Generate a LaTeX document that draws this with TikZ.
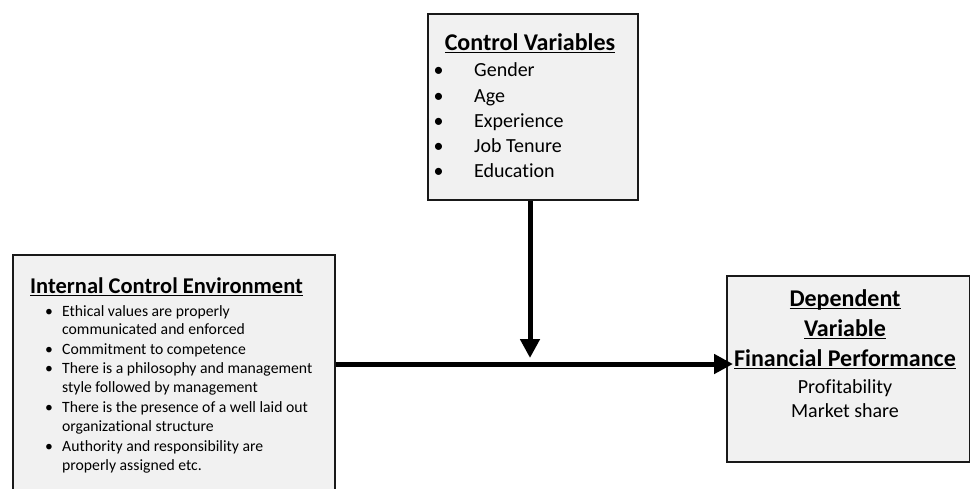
\documentclass[tikz,border=0pt]{standalone}
\usepackage{fontspec}
\setmainfont[Ligatures=NoCommon]{Carlito}
\usetikzlibrary{arrows.meta}
\definecolor{boxgray}{HTML}{F1F1F1}
\newsavebox\ulsave
\newcommand\ulbox[1]{\sbox\ulsave{#1}\rlap{\rule[-3.4pt]{\wd\ulsave}{1.3pt}}\usebox\ulsave}
\begin{document}
\begin{tikzpicture}[x=1pt,y=-1pt,
  box/.style={draw=black!90, line width=2pt, fill=boxgray, inner sep=0pt, anchor=north west},
  conn/.style={line width=5pt, -{Triangle[length=19pt,width=19pt]}},
  ttl/.style={font=\fontsize{24}{28}\selectfont\bfseries, inner sep=0pt, anchor=base},
  cvitem/.style={font=\fontsize{20}{24}\selectfont, inner sep=0pt, anchor=base west},
  ieitem/.style={font=\fontsize{15.7}{18}\selectfont, inner sep=0pt, anchor=base west},
  dvitem/.style={font=\fontsize{20}{24}\selectfont, inner sep=0pt, anchor=base}]
\useasboundingbox (0,0) rectangle (970,488);
\fill[white] (0,0) rectangle (970,488);
% boxes
\node[box, minimum width=210pt, minimum height=186pt] (ctrl) at (427,13) {};
\node[box, minimum width=322pt, minimum height=245pt] (ice) at (12,254) {};
\node[box, minimum width=243pt, minimum height=186pt] (dep) at (726,275) {};
% control variables
\node[ttl] (cvt) at (530,50) {\ulbox{Control Variables}};
\foreach \y/\t [count=\i] in {76/Gender,102/Age,127/Experience,152/Job Tenure,177/Education}{
  \node[cvitem] (cvb\i) at (433.5,\y) {\textbullet};
  \node[cvitem] (cv\i) at (474,\y) {\t};
}
% internal control environment
\node[ttl, font=\fontsize{22.5}{26}\selectfont\bfseries, anchor=base west] (iet) at (30,293) {\ulbox{Internal Control Environment}};
\foreach \y in {316,354,373,412,451}{
  \node[ieitem] at (45,\y) {\textbullet};
}
\node[ieitem] (ie1) at (62,316) {Ethical values are properly};
\node[ieitem] (ie2) at (62,334) {communicated and enforced};
\node[ieitem] (ie3) at (62,354) {Commitment to competence};
\node[ieitem] (ie4) at (62,373) {There is a philosophy and management};
\node[ieitem] (ie5) at (62,392) {style followed by management};
\node[ieitem] (ie6) at (62,412) {There is the presence of a well laid out};
\node[ieitem] (ie7) at (62,431) {organizational structure};
\node[ieitem] (ie8) at (62,451) {Authority and responsibility are};
\node[ieitem] (ie9) at (62,470) {properly assigned etc.};
% dependent variable
\node[ttl] (dv1) at (845,306) {\ulbox{Dependent}};
\node[ttl] (dv2) at (845,336) {\ulbox{Variable}};
\node[ttl] (dv3) at (845,366) {\ulbox{Financial Performance}};
\node[dvitem] (dv4) at (845,393) {Profitability};
\node[dvitem] (dv5) at (845,417) {Market share};
% connectors
\coordinate (meet) at (530,358);
\coordinate (hline) at (0,364);
\draw[conn] (ctrl.south -| meet) -- (meet);
\draw[conn, shorten >=-7pt] (ice.east |- hline) -- (dep.west |- hline);
\end{tikzpicture}
\end{document}
